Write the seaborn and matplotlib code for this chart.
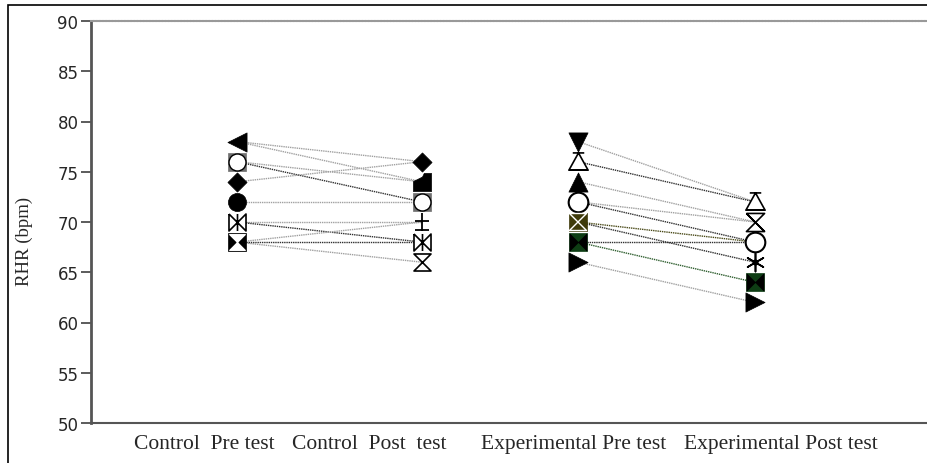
import numpy as np
import pandas as pd
import matplotlib
matplotlib.use('Agg')
import matplotlib.pyplot as plt
from matplotlib.path import Path
from matplotlib.patches import Rectangle
import seaborn as sns

sns.set_style("white")

# resting heart rate per subject, pre and post
ctrl_pre = [78, 78, 76, 76, 74, 72, 70, 70, 68, 68, 68]
ctrl_post = [76, 74, 74, 72, 76, 72, 70, 68, 70, 68, 66]
ctrl_line = ['gray', 'gray', 'gray', 'dark', 'gray', 'gray', 'gray', 'dark', 'gray', 'dark', 'gray']

exp_pre = [78, 76, 74, 72, 72, 70, 70, 68, 68, 66]
exp_post = [72, 72, 70, 70, 68, 68, 66, 68, 64, 62]
exp_line = ['gray', 'dark', 'gray', 'gray', 'dark', 'olive', 'dark', 'dark', 'green', 'gray']

# marker used at each level of each column
ctrl_pre_mk = {78: 'ltri', 76: 'circsq', 74: 'diam', 72: 'dot', 70: 'bowbar', 68: 'sqhour'}
ctrl_post_mk = {76: 'diam', 74: 'wedge', 72: 'circsq', 70: 'plus', 68: 'bowbar', 66: 'hour'}
exp_pre_mk = {78: 'dtri', 76: 'utri_open', 74: 'utri', 72: 'circ', 70: 'olivehour', 68: 'greenbow', 66: 'rtri'}
exp_post_mk = {72: 'utri_open', 70: 'hourx', 68: 'circ', 66: 'star', 64: 'greenbow', 62: 'rtri'}

groups = ['Control  Pre test', 'Control  Post  test', 'Experimental Pre test', 'Experimental Post test']

# layout (axes x in pixels from left spine)
mark_x = [146, 331, 487, 664]
label_x = [113, 278, 483, 690]
line_colors = {'gray': '#a0a0a0', 'dark': '#303030', 'olive': '#4a4a18', 'green': '#2e5e2e'}

# custom marker shapes
hour = Path([(-1, 1), (1, 1), (-1, -1), (1, -1), (-1, 1)], closed=True)
bow = Path([(-1, 1), (-1, -1), (1, 1), (1, -1), (-1, 1)], closed=True)
hourx = Path([(-1, 1), (1, 1), (-1, -1), (1, -1), (-1, 1), (-1, 1), (1, -1)],
             [1, 2, 2, 2, 2, 1, 2])
wedge = Path([(-1, -1), (1, -1), (1, 1), (0.2, 1), (0.0, 0.6), (-1, 0.1), (-1, -1)], closed=True)
bowbar = Path([(-1, 1), (-1, -1), (1, 1), (1, -1), (-1, 1), (0, 1), (0, -1)],
              [1, 2, 2, 2, 2, 1, 2])
plusbar = Path([(0, 1), (0, -1), (-0.8, 0.1), (0.8, 0.1), (-0.8, -0.9), (0.8, -0.9)],
               [1, 2, 1, 2, 1, 2])
utri_bar = Path([(0, 1), (-1, -0.8), (1, -0.8), (0, 1), (-0.6, 1), (0.6, 1), (-1, -0.8), (1, -0.8)],
                [1, 2, 2, 2, 1, 2, 1, 2])

# each marker key -> list of layers (marker, size, face, edge, lw)
styles = {
    'ltri': [('<', 190, 'black', 'black', 0.5)],
    'circsq': [('s', 180, '#707070', '#707070', 0.5), ('o', 150, 'white', 'black', 1.0)],
    'diam': [('D', 95, 'black', 'black', 0.5)],
    'dot': [('o', 170, 'black', 'black', 0.5)],
    'bowbar': [(bowbar, 150, 'white', 'black', 1.2)],
    'sqhour': [('s', 180, 'black', 'black', 0.5), (hour, 130, 'white', 'white', 0.8)],
    'wedge': [(wedge, 170, 'black', 'black', 0.5)],
    'plus': [(plusbar, 170, 'none', 'black', 1.3)],
    'hour': [(hour, 150, 'white', 'black', 1.2)],
    'dtri': [('v', 190, 'black', 'black', 0.5)],
    'utri_open': [(utri_bar, 190, 'white', 'black', 1.2)],
    'utri': [('^', 190, 'black', 'black', 0.5)],
    'circ': [('o', 200, 'white', 'black', 1.5)],
    'olivehour': [('s', 170, '#3e3a0a', '#3e3a0a', 0.5), (hour, 150, 'none', 'white', 1.0)],
    'greenbow': [('s', 170, '#0e3d14', '#0e3d14', 0.5), (bow, 150, 'black', 'black', 0.5)],
    'rtri': [('>', 190, 'black', 'black', 0.5)],
    'hourx': [(hourx, 170, 'white', 'black', 1.2)],
    'star': [((6, 2, 0), 170, 'black', 'black', 1.2), ('o', 15, 'black', 'black', 0.5)],
}

rows = []
for gi, (pre, post, lc) in enumerate([(ctrl_pre, ctrl_post, ctrl_line), (exp_pre, exp_post, exp_line)]):
    for i in range(len(pre)):
        sid = f"g{gi}s{i}"
        rows.append({'subject': sid, 'col': 2 * gi, 'x': mark_x[2 * gi], 'rhr': pre[i], 'line': lc[i]})
        rows.append({'subject': sid, 'col': 2 * gi + 1, 'x': mark_x[2 * gi + 1], 'rhr': post[i], 'line': lc[i]})
df = pd.DataFrame(rows)

fig = plt.figure(figsize=(9.27, 4.64), dpi=100)
ax = fig.add_axes([91 / 927, 1 - 424 / 464, 1 - 91 / 927, (424 - 22) / 464])

for sid, sub in df.groupby('subject'):
    sns.lineplot(data=sub, x='x', y='rhr', ax=ax, color=line_colors[sub['line'].iloc[0]],
                 lw=1.0, linestyle=(0, (1, 0.6)), estimator=None, sort=False, legend=False, zorder=2)

col_markers = [ctrl_pre_mk, ctrl_post_mk, exp_pre_mk, exp_post_mk]
pts = df.drop_duplicates(['col', 'rhr']).copy()
pts['mk'] = [col_markers[c][v] for c, v in zip(pts['col'], pts['rhr'])]
for key, sub in pts.groupby('mk'):
    for li, (m, s, fc, ec, lw) in enumerate(styles[key]):
        sns.scatterplot(data=sub, x='x', y='rhr', ax=ax, marker=m, s=s, color=fc,
                        edgecolor=ec, linewidth=lw, legend=False, zorder=3 + li)

ax.set_xlim(0, 836)
ax.set_ylim(50, 90)
ax.set_yticks(np.arange(50, 91, 5))
ax.set_xticks(label_x)
ax.set_xticklabels(groups, family='Liberation Serif', fontsize=15.5)
ax.tick_params(axis='x', length=0, pad=8)
ax.tick_params(axis='y', length=7, width=1.2, color='#404040', labelsize=12, pad=2, left=True)
ax.set_xlabel('')
ax.set_ylabel('RHR (bpm)', family='Liberation Serif', fontsize=13.5)
ax.yaxis.set_label_coords(-0.069, 0.455)

ax.spines['right'].set_visible(False)
ax.spines['left'].set_color('#555555')
ax.spines['left'].set_linewidth(2)
ax.spines['bottom'].set_color('#555555')
ax.spines['bottom'].set_linewidth(1.5)
ax.spines['top'].set_color('#999999')
ax.spines['top'].set_linewidth(1.5)
ax.spines['top'].set_linestyle((0, (1, 0.5)))

# outer frame of the exported figure (only top and left edges show)
fig.patches.append(Rectangle((8 / 927, -0.2), 1.2, 458 / 464 + 0.2,
                             transform=fig.transFigure, fill=False, edgecolor='black', lw=1.2))

fig.savefig('out.png', dpi=100)
